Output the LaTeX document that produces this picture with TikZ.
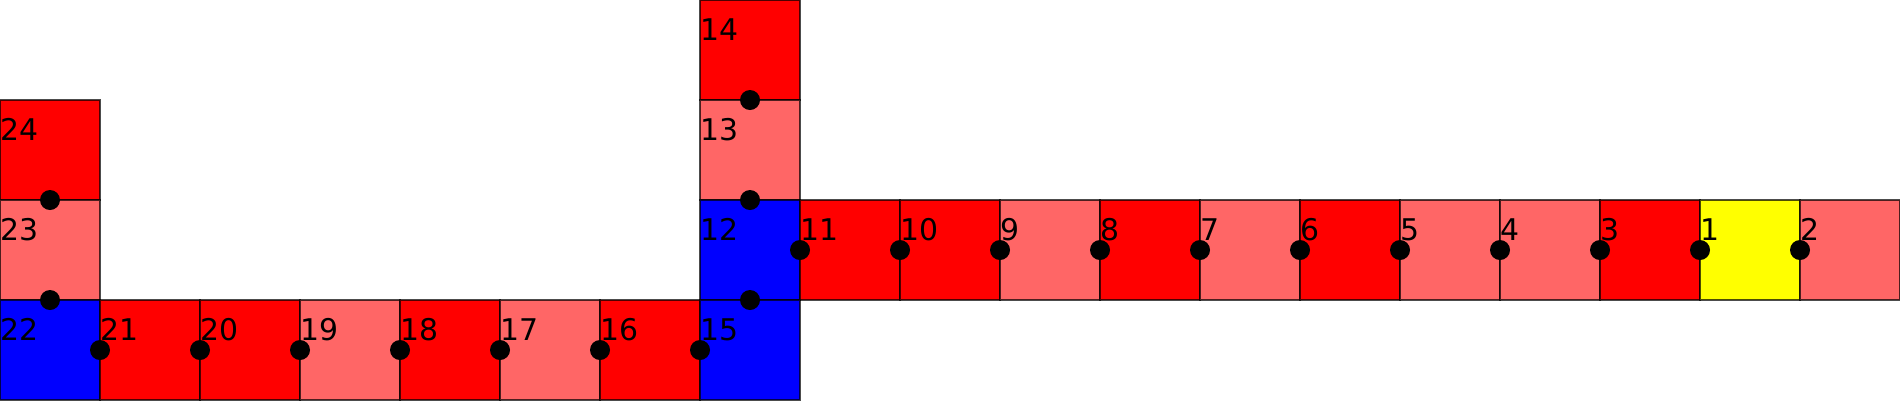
\documentclass[tikz,border=0pt]{standalone}
\usepackage{fontspec}
\setmainfont{DejaVu Sans}
\definecolor{hot}{HTML}{FF0000}
\definecolor{warm}{HTML}{FF6666}
\definecolor{cold}{HTML}{0000FF}
\definecolor{start}{HTML}{FFFF00}
\tikzset{
  cell/.style={draw=black,draw opacity=.7,line width=.4pt,minimum size=1cm,inner sep=0pt,outer sep=0pt},
  tag/.style={anchor=base west,inner sep=0pt,font=\fontsize{8.5}{10}\selectfont},
  joint/.style={circle,fill=black,minimum size=.2cm,inner sep=0pt}
}
\begin{document}
\begin{tikzpicture}[x=1cm,y=1cm]
  \useasboundingbox (0,0) rectangle (19,4);
  % squares: name/x/y/colour
  \foreach \n/\x/\y/\c in {14/7/3/hot,24/0/2/hot,13/7/2/warm,23/0/1/warm,
      12/7/1/cold,11/8/1/hot,10/9/1/hot,9/10/1/warm,8/11/1/hot,7/12/1/warm,
      6/13/1/hot,5/14/1/warm,4/15/1/warm,3/16/1/hot,1/17/1/start,2/18/1/warm,
      22/0/0/cold,21/1/0/hot,20/2/0/hot,19/3/0/warm,18/4/0/hot,17/5/0/warm,
      16/6/0/hot,15/7/0/cold}{
    \node[cell,fill=\c] (c\n) at (\x+.5,\y+.5) {};
    \node[tag] (t\n) at ([yshift=-.4cm]c\n.north west) {\n};
  }
  % joints
  \foreach \n in {14,13,12,24,23}
    \node[joint] (j\n) at (c\n.south) {};
  \foreach \n in {11,10,9,8,7,6,5,4,3,1,2,21,20,19,18,17,16,15}
    \node[joint] (j\n) at (c\n.west) {};
\end{tikzpicture}
\end{document}
